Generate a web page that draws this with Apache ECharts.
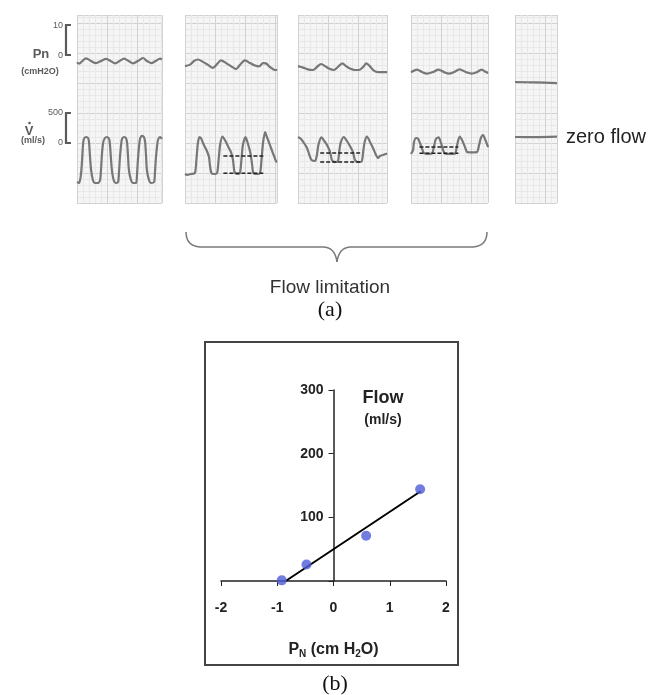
<!DOCTYPE html>
<html>
<head>
<meta charset="utf-8">
<style>
  html, body { margin: 0; padding: 0; background: #fff; }
  #chart { width: 650px; height: 695px; }
</style>
<script src="https://cdn.jsdelivr.net/npm/echarts@6/dist/echarts.min.js"></script>
</head>
<body>
<div id="chart"></div>
<script>
// (a) recordings: t in chart divisions (1 major square), Pn in cmH2O, flow in ml/s
const pn1 = [[0,-2.4],[0.07,-2.9],[0.18,-2.0],[0.3,-1.1],[0.47,-2.0],[0.63,-2.7],[0.8,-2.0],[0.97,-1.3],[1.12,-2.0],[1.27,-2.8],[1.42,-2.0],[1.57,-1.2],[1.72,-2.0],[1.87,-2.8],[2.03,-2.0],[2.2,-1.0],[2.33,-2.0],[2.47,-2.7],[2.62,-2.0],[2.77,-1.2],[2.83,-1.5]];
const flow1 = [[0,-650],[0.07,-667],[0.13,-533],[0.17,-283],[0.2,-33],[0.23,67],[0.3,100],[0.37,83],[0.4,17],[0.43,-200],[0.47,-450],[0.53,-617],[0.6,-667],[0.7,-667],[0.77,-617],[0.8,-450],[0.83,-200],[0.87,0],[0.93,83],[1.0,100],[1.07,67],[1.1,-33],[1.13,-250],[1.17,-483],[1.23,-633],[1.3,-667],[1.37,-650],[1.4,-483],[1.43,-250],[1.47,-33],[1.5,67],[1.57,100],[1.63,83],[1.67,0],[1.7,-217],[1.73,-450],[1.8,-617],[1.87,-667],[1.97,-667],[2.0,-533],[2.03,-283],[2.07,-50],[2.1,67],[2.17,117],[2.23,100],[2.27,17],[2.3,-200],[2.33,-450],[2.4,-617],[2.47,-667],[2.57,-650],[2.6,-483],[2.63,-250],[2.67,-50],[2.7,50],[2.77,100],[2.83,67]];

const pn2 = [[0,-3.7],[0.17,-3.2],[0.3,-2.0],[0.43,-1.5],[0.6,-2.3],[0.77,-3.3],[0.93,-4.3],[1.07,-3.0],[1.2,-1.8],[1.37,-2.7],[1.53,-3.7],[1.7,-4.7],[1.83,-3.3],[2.0,-1.8],[2.17,-2.7],[2.33,-3.5],[2.47,-3.8],[2.6,-2.7],[2.7,-2.8],[2.83,-4.0],[3.0,-5.0],[3.07,-5.0]];
const flow2 = [[0,-517],[0.07,-533],[0.2,-517],[0.33,-500],[0.38,-283],[0.43,0],[0.48,100],[0.53,83],[0.63,-33],[0.73,-133],[0.8,-233],[0.83,-367],[0.88,-500],[0.97,-517],[1.07,-500],[1.12,-283],[1.17,-33],[1.25,108],[1.33,50],[1.43,-50],[1.53,-150],[1.6,-283],[1.65,-483],[1.73,-517],[1.83,-500],[1.88,-283],[1.93,-33],[2.02,100],[2.1,-17],[2.18,-167],[2.23,-333],[2.28,-500],[2.4,-517],[2.5,-500],[2.55,-283],[2.6,0],[2.67,183],[2.73,100],[2.83,-33],[2.93,-167],[3.03,-300],[3.07,-317]];
const limitT2 = [1.28, 2.61];
const limitFlow2 = [-217, -505];

const pn3 = [[0,-3.7],[0.17,-4.2],[0.33,-4.8],[0.5,-5.0],[0.63,-4.0],[0.77,-3.0],[0.9,-3.7],[1.03,-4.5],[1.2,-5.0],[1.33,-4.0],[1.48,-2.8],[1.6,-3.7],[1.73,-4.5],[1.9,-5.0],[2.03,-5.0],[2.17,-4.0],[2.28,-2.8],[2.4,-3.8],[2.53,-5.2],[2.67,-5.7],[2.83,-5.7],[2.97,-5.7]];
const flow3 = [[0,100],[0.1,67],[0.2,0],[0.3,-83],[0.38,-200],[0.45,-283],[0.57,-300],[0.63,-200],[0.68,-33],[0.78,92],[0.9,17],[1.0,-67],[1.08,-167],[1.13,-283],[1.23,-317],[1.33,-308],[1.38,-117],[1.43,17],[1.53,100],[1.63,33],[1.73,-50],[1.83,-150],[1.9,-283],[2.0,-317],[2.12,-308],[2.18,-117],[2.23,33],[2.3,108],[2.4,17],[2.5,-83],[2.6,-200],[2.67,-250],[2.73,-217],[2.83,-200],[2.97,-175]];
const limitT3 = [0.74, 2.08];
const limitFlow3 = [-167, -317];

const pn4 = [[0,-5.8],[0.2,-4.9],[0.37,-5.7],[0.53,-6.2],[0.73,-5.7],[0.92,-4.9],[1.1,-5.7],[1.27,-6.2],[1.43,-5.7],[1.62,-4.8],[1.83,-5.7],[2.03,-6.2],[2.2,-5.7],[2.35,-4.9],[2.5,-5.7],[2.57,-6.0]];
const flow4 = [[0,-183],[0.07,-117],[0.1,17],[0.17,83],[0.23,75],[0.3,0],[0.37,-100],[0.43,-167],[0.57,-183],[0.7,-175],[0.77,-50],[0.83,67],[0.92,92],[1.0,0],[1.07,-117],[1.13,-175],[1.3,-183],[1.47,-175],[1.53,-50],[1.62,108],[1.7,50],[1.8,-67],[1.87,-150],[2.03,-158],[2.2,-150],[2.27,-33],[2.33,83],[2.4,133],[2.48,50],[2.57,-67]];
const limitT4 = [0.28, 1.58];
const limitFlow4 = [-67, -172];

const pn5 = [[0,-9.0],[0.7,-9.1],[1.4,-9.4]];
const flow5 = [[0,100],[0.7,97],[1.4,105]];

const pnScale = [0, 10];
const flowScale = [0, 500];

// (b) flow vs nasal pressure
const pnB = [-0.92, -0.48, 0.58, 1.54];
const flowB = [1, 26, 71, 144];
const fitPn = [-0.85, 1.55];
const fitFlow = [0, 141];
const pnRange = [-2, 2];

const strips = [
  { left: 77, width: 85, pn: pn1, flow: flow1 },
  { left: 185, width: 92, pn: pn2, flow: flow2, limT: limitT2, limF: limitFlow2 },
  { left: 298, width: 89, pn: pn3, flow: flow3, limT: limitT3, limF: limitFlow3 },
  { left: 411, width: 77, pn: pn4, flow: flow4, limT: limitT4, limF: limitFlow4 },
  { left: 515, width: 42, pn: pn5, flow: flow5 }
];

const SQ = 30; // px per major square
const traceStyle = { color: '#777', width: 2.2 };
const majorLine = { color: '#d2d2d2', width: 1 };
const minorLine = { color: '#e8e8e8', width: 1 };
const sans = 'Arial, "Liberation Sans", sans-serif';
const serif = '"Liberation Serif", "Times New Roman", serif';

const option = {
  animation: false,
  backgroundColor: '#fff',
  grid: [],
  xAxis: [],
  yAxis: [],
  series: []
};

strips.forEach((s, i) => {
  option.grid.push({
    left: s.left, top: 15, width: s.width, height: 188,
    show: true, backgroundColor: '#f5f5f5', borderWidth: 0
  });
  option.xAxis.push({
    type: 'value', gridIndex: i, min: 0, max: s.width / SQ, interval: 1,
    axisLine: { show: false }, axisTick: { show: false }, axisLabel: { show: false },
    splitLine: { show: true, lineStyle: majorLine },
    minorTick: { show: false, splitNumber: 5 },
    minorSplitLine: { show: true, lineStyle: minorLine }
  });
  // flow axis
  option.yAxis.push({
    type: 'value', gridIndex: i, min: -1000, max: 2133, interval: 500,
    axisLine: { show: false }, axisTick: { show: false }, axisLabel: { show: false },
    splitLine: { show: true, lineStyle: majorLine },
    minorTick: { show: false, splitNumber: 5 },
    minorSplitLine: { show: true, lineStyle: minorLine }
  });
  // Pn axis
  option.yAxis.push({
    type: 'value', gridIndex: i, min: -49.33, max: 13.33, show: false,
    splitLine: { show: false }
  });

  option.series.push({
    type: 'line', xAxisIndex: i, yAxisIndex: 2 * i + 1, data: s.pn,
    showSymbol: false, smooth: 0.3, lineStyle: traceStyle, silent: true
  });
  option.series.push({
    type: 'line', xAxisIndex: i, yAxisIndex: 2 * i, data: s.flow,
    showSymbol: false, smooth: 0.25, lineStyle: traceStyle, silent: true
  });
  if (s.limT) {
    s.limF.forEach((lv) => {
      option.series.push({
        type: 'line', xAxisIndex: i, yAxisIndex: 2 * i,
        data: [[s.limT[0], lv], [s.limT[1], lv]],
        showSymbol: false, silent: true, z: 3,
        lineStyle: { color: '#222', width: 1.5, type: [4, 2] }
      });
    });
  }
});

// panel (b)
const bGrid = { left: 221, top: 390, width: 225, height: 191 };
option.grid.push(bGrid);
option.xAxis.push({
  type: 'value', gridIndex: 5, min: pnRange[0], max: pnRange[1], interval: 1,
  axisLine: { lineStyle: { color: '#222', width: 1.5 } },
  axisTick: { show: true, length: 5, lineStyle: { color: '#222' } },
  axisLabel: { fontSize: 14, fontWeight: 'bold', color: '#222', margin: 20, fontFamily: sans },
  splitLine: { show: false },
  name: '{a|P}{s|N}{a| (cm H}{s|2}{a|O)}',
  nameLocation: 'middle', nameGap: 59,
  nameTextStyle: {
    rich: {
      a: { fontSize: 16, fontWeight: 'bold', color: '#222', fontFamily: sans },
      s: { fontSize: 10, fontWeight: 'bold', color: '#222', fontFamily: sans, verticalAlign: 'bottom', padding: [9, 0, 0, 0] }
    }
  }
});
option.yAxis.push({
  type: 'value', gridIndex: 5, min: 0, max: 300, interval: 100,
  // y axis drawn through Pn = 0
  offset: -(0 - pnRange[0]) / (pnRange[1] - pnRange[0]) * bGrid.width,
  axisLine: { show: true, onZero: false, lineStyle: { color: '#222', width: 1.5 } },
  axisTick: { show: true, length: 5, lineStyle: { color: '#222' } },
  axisLabel: {
    fontSize: 14, fontWeight: 'bold', color: '#222', margin: 10, fontFamily: sans,
    formatter: (v) => (v === 0 ? '' : v)
  },
  splitLine: { show: false }
});
option.series.push({
  type: 'line', xAxisIndex: 5, yAxisIndex: 10,
  data: fitPn.map((p, k) => [p, fitFlow[k]]),
  showSymbol: false, lineStyle: { color: '#000', width: 2 }, silent: true
});
option.series.push({
  type: 'scatter', xAxisIndex: 5, yAxisIndex: 10,
  data: pnB.map((p, k) => [p, flowB[k]]),
  symbolSize: 10, itemStyle: { color: '#4f5bd8' }, z: 4
});

const chart = echarts.init(document.getElementById('chart'));
chart.setOption(option);

// scale bars next to the first strip
const gx = strips[0].left;
const pnTop = chart.convertToPixel({ xAxisIndex: 0, yAxisIndex: 1 }, [0, pnScale[1]])[1];
const pnBot = chart.convertToPixel({ xAxisIndex: 0, yAxisIndex: 1 }, [0, pnScale[0]])[1];
const flTop = chart.convertToPixel({ xAxisIndex: 0, yAxisIndex: 0 }, [0, flowScale[1]])[1];
const flBot = chart.convertToPixel({ xAxisIndex: 0, yAxisIndex: 0 }, [0, flowScale[0]])[1];
const zeroY = chart.convertToPixel({ xAxisIndex: 4, yAxisIndex: 8 }, flow5[flow5.length - 1])[1];
const bx = gx - 11;
const labelGray = '#5a5a5a';

function bracket(top, bot) {
  return {
    type: 'polyline',
    shape: { points: [[bx + 5, top], [bx, top], [bx, bot], [bx + 5, bot]] },
    style: { stroke: labelGray, lineWidth: 2.2, fill: null }
  };
}
function txt(x, y, text, font, fill, align) {
  return {
    type: 'text', x: x, y: y,
    style: { text: text, font: font, fill: fill || '#333', align: align || 'center', verticalAlign: 'middle' }
  };
}

const brace = '#7a7a7a';
chart.setOption({
  graphic: [
    bracket(pnTop, pnBot),
    bracket(flTop, flBot),
    txt(bx - 3, pnTop + 1, String(pnScale[1]), '9px ' + sans, labelGray, 'right'),
    txt(bx - 3, pnBot + 1, String(pnScale[0]), '9px ' + sans, labelGray, 'right'),
    txt(bx - 3, flTop, String(flowScale[1]), '9px ' + sans, labelGray, 'right'),
    txt(bx - 3, flBot, String(flowScale[0]), '9px ' + sans, labelGray, 'right'),
    txt(41, 54, 'Pn', 'bold 13px ' + sans, labelGray),
    txt(40, 72, '(cmH2O)', 'bold 9px ' + sans, labelGray),
    txt(29, 131, 'V', 'bold 13px ' + sans, labelGray),
    { type: 'circle', shape: { cx: 29.5, cy: 123, r: 1.3 }, style: { fill: labelGray } },
    txt(33, 141, '(ml/s)', 'bold 9px ' + sans, labelGray),
    txt(566, zeroY + 1, 'zero flow', '20px ' + sans, '#222', 'left'),

    // brace under the flow-limited strips
    { type: 'bezierCurve', shape: { x1: 186, y1: 232, x2: 200, y2: 247, cpx1: 186, cpy1: 246 }, style: { stroke: brace, lineWidth: 1.5, fill: null } },
    { type: 'line', shape: { x1: 200, y1: 247, x2: 323, y2: 247 }, style: { stroke: brace, lineWidth: 1.5 } },
    { type: 'bezierCurve', shape: { x1: 323, y1: 247, x2: 337, y2: 262, cpx1: 335, cpy1: 247 }, style: { stroke: brace, lineWidth: 1.5, fill: null } },
    { type: 'bezierCurve', shape: { x1: 337, y1: 262, x2: 351, y2: 247, cpx1: 339, cpy1: 247 }, style: { stroke: brace, lineWidth: 1.5, fill: null } },
    { type: 'line', shape: { x1: 351, y1: 247, x2: 473, y2: 247 }, style: { stroke: brace, lineWidth: 1.5 } },
    { type: 'bezierCurve', shape: { x1: 473, y1: 247, x2: 487, y2: 232, cpx1: 487, cpy1: 246 }, style: { stroke: brace, lineWidth: 1.5, fill: null } },
    txt(330, 288, 'Flow limitation', '19px ' + sans, '#333'),
    txt(330, 310, '(a)', '22px ' + serif, '#111'),

    // panel (b) frame and labels
    { type: 'rect', shape: { x: 205, y: 342, width: 253, height: 323 }, style: { stroke: '#444', lineWidth: 2, fill: null } },
    txt(383, 398, 'Flow', 'bold 18px ' + sans, '#222'),
    txt(383, 420, '(ml/s)', 'bold 14px ' + sans, '#222'),
    txt(335, 684, '(b)', '22px ' + serif, '#111')
  ]
});
</script>
</body>
</html>
